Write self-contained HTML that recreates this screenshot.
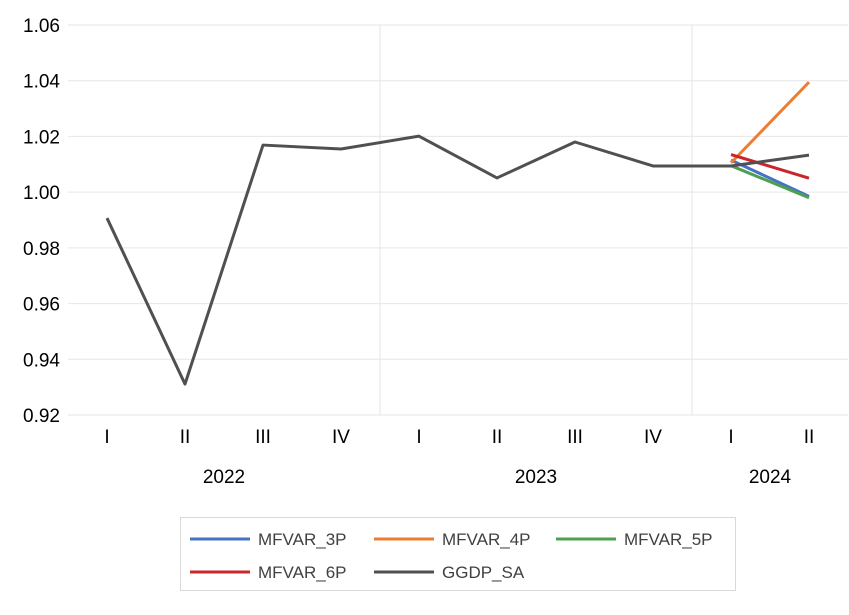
<!DOCTYPE html>
<html><head><meta charset="utf-8"><style>
body{margin:0;background:#fff;font-family:"Liberation Sans",sans-serif;}
</style></head><body>
<svg width="849" height="610" xmlns="http://www.w3.org/2000/svg">
<g id="grid"></g>
<g id="axes"></g>
<g id="series"></g>
<g>
<rect x="180.5" y="517.5" width="555" height="73" fill="#fff" stroke="#d9d9d9"/>
<g font-size="17" fill="#404040">
<line x1="190" y1="539" x2="250" y2="539" stroke="#4472c4" stroke-width="3"/><text x="258" y="545">MFVAR_3P</text>
<line x1="374" y1="539" x2="434" y2="539" stroke="#ed7d31" stroke-width="3"/><text x="442" y="545">MFVAR_4P</text>
<line x1="556" y1="539" x2="616" y2="539" stroke="#4ea04e" stroke-width="3"/><text x="624" y="545">MFVAR_5P</text>
<line x1="190" y1="572" x2="250" y2="572" stroke="#c8262b" stroke-width="3"/><text x="258" y="578">MFVAR_6P</text>
<line x1="374" y1="572" x2="434" y2="572" stroke="#505050" stroke-width="3"/><text x="442" y="578">GGDP_SA</text>
</g></g>
</svg>
<script>
const categories=["I","II","III","IV","I","II","III","IV","I","II"];
const years=["2022","2023","2024"];
const yTicks=[0.92,0.94,0.96,0.98,1.00,1.02,1.04,1.06];
const ggdp=[0.9907,0.9311,1.0169,1.0155,1.0201,1.0051,1.0180,1.0094,1.0094,1.0133];
const mf3=[null,null,null,null,null,null,null,null,1.0115,0.9985];
const mf4=[null,null,null,null,null,null,null,null,1.0105,1.0395];
const mf5=[null,null,null,null,null,null,null,null,1.0095,0.9980];
const mf6=[null,null,null,null,null,null,null,null,1.0135,1.0050];
const NS="http://www.w3.org/2000/svg";
const L=68,R=848,T=25,B=415,ymin=0.92,ymax=1.06;
const step=(R-L)/categories.length;
const x=i=>L+step*(i+0.5);
const y=v=>B-(v-ymin)/(ymax-ymin)*(B-T);
function mk(tag,at,par){const e=document.createElementNS(NS,tag);for(const k in at)e.setAttribute(k,at[k]);document.getElementById(par).appendChild(e);return e;}
yTicks.forEach(t=>{
 const g=mk("line",{x1:L,x2:R,y1:y(t),y2:y(t),stroke:"#e6e6e6","stroke-width":1},"grid");
 
 
 const tx=mk("text",{x:60,y:y(t)+7,"text-anchor":"end","font-size":19,fill:"#000"},"axes");
 tx.textContent=t.toFixed(2);
 
 
});
[4,8].forEach(i=>{
 const s=mk("line",{x1:L+step*i,x2:L+step*i,y1:T,y2:B,stroke:"#e6e6e6"},"grid");
 
 
});
categories.forEach((c,i)=>{
 const tx=mk("text",{x:x(i),y:443,"text-anchor":"middle","font-size":19,fill:"#000"},"axes");
 tx.textContent=c;
 
 
});
const yearPos=[(x(0)+x(3))/2,(x(4)+x(7))/2,(x(8)+x(9))/2];
years.forEach((yr,i)=>{
 const tx=mk("text",{x:yearPos[i],y:483,"text-anchor":"middle","font-size":19,fill:"#000"},"axes");
 tx.textContent=yr;
 
 
});
function line(data,color,name){
 const pts=data.map((v,i)=>v==null?null:x(i)+","+y(v)).filter(p=>p);
 const p=mk("polyline",{points:pts.join(" "),fill:"none",stroke:color,"stroke-width":3,"stroke-linejoin":"round"},"series");
 
 
}
line(mf3,"#4472c4","mfvar-3p-line");
line(mf4,"#ed7d31","mfvar-4p-line");
line(mf5,"#4ea04e","mfvar-5p-line");
line(mf6,"#c8262b","mfvar-6p-line");
line(ggdp,"#505050","ggdp-sa-line");
</script>
</body></html>
